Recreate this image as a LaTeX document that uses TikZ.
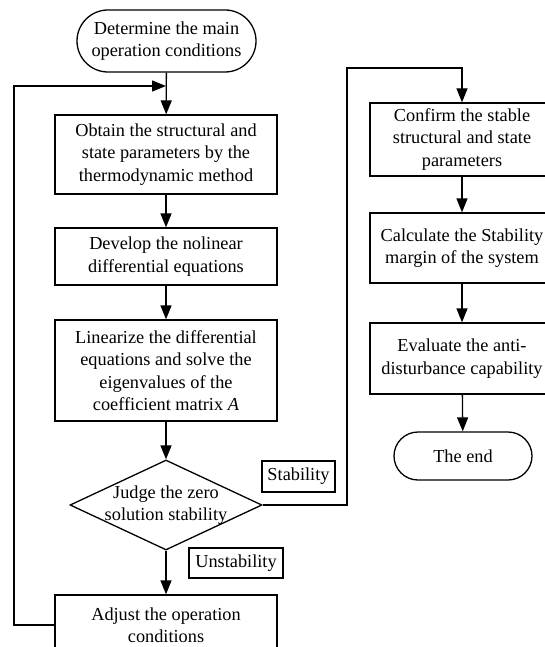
\documentclass[tikz,border=0pt]{standalone}
\usepackage{fontspec}
\setmainfont{Liberation Serif}
\usetikzlibrary{arrows.meta,shapes.geometric,shapes.misc}
\tikzset{
  every node/.style={font=\fontsize{18.3}{22.5}\selectfont},
  box/.style={draw, line width=1.3pt, align=center, inner sep=1pt},
  proc/.style={box, minimum width=222},
  procR/.style={box, minimum width=184},
  term/.style={draw, line width=1.3pt, rounded rectangle, align=center, inner sep=1pt},
  decide/.style={draw, line width=1.3pt, diamond, minimum width=192, minimum height=90, inner sep=0pt},
  tag/.style={draw, line width=1.3pt, inner sep=2pt},
  arr/.style={line width=1.3pt, -{Triangle[length=14pt,width=11pt]}},
  ln/.style={line width=1.3pt}
}
\begin{document}
\begin{tikzpicture}[x=1pt, y=-1pt]
  \useasboundingbox (0,0) rectangle (544,647);
  % left column
  \node[term, minimum width=181, minimum height=62] (start) at (166.5,41) {Determine the main\\operation conditions};
  \node[proc, minimum height=79] (obtain) at (166,154.5) {Obtain the structural and\\state parameters by the\\thermodynamic method};
  \node[proc, minimum height=57] (develop) at (166,256.5) {Develop the nolinear\\differential equations};
  \node[proc, minimum height=101] (linear) at (166,370.5) {Linearize the differential\\equations and solve the\\eigenvalues of the\\coefficient matrix \textit{A}};
  \node[decide, label={[align=center]center:Judge the zero\\solution stability}] (judge) at (166,505) {};
  \node[proc, minimum height=60] (adjust) at (166,625) {Adjust the operation\\conditions};
  \node[tag, minimum width=94, minimum height=30] (unst) at (236,563) {Unstability};
  \node[tag, minimum width=73, minimum height=31] (stab) at (298.5,476.5) {Stability};
  % right column
  \node[procR, minimum height=73] (confirm) at (462,139.5) {Confirm the stable\\structural and state\\parameters};
  \node[procR, minimum height=70] (calc) at (462,248) {Calculate the Stability\\margin of the system};
  \node[procR, minimum height=71] (eval) at (462,358.5) {Evaluate the anti-\\disturbance capability};
  \node[term, minimum width=140, minimum height=48] (finish) at (463,456) {The end};
  % corners
  \coordinate (loopL) at (14,86);
  \coordinate (merge) at (166,86);
  \coordinate (up) at (347,68);
  % connectors
  \draw[arr] (start) -- (obtain);
  \draw[arr] (obtain) -- (develop);
  \draw[arr] (develop) -- (linear);
  \draw[arr] (linear) -- (judge);
  \draw[arr] (judge) -- (adjust);
  \draw[arr] (adjust.west) -| (loopL) -- (merge);
  \draw[arr] (judge.east) -| (up) -| (confirm.north);
  \draw[arr] (confirm) -- (calc);
  \draw[arr] (calc) -- (eval);
  \draw[arr] (eval) -- (finish);
\end{tikzpicture}
\end{document}
